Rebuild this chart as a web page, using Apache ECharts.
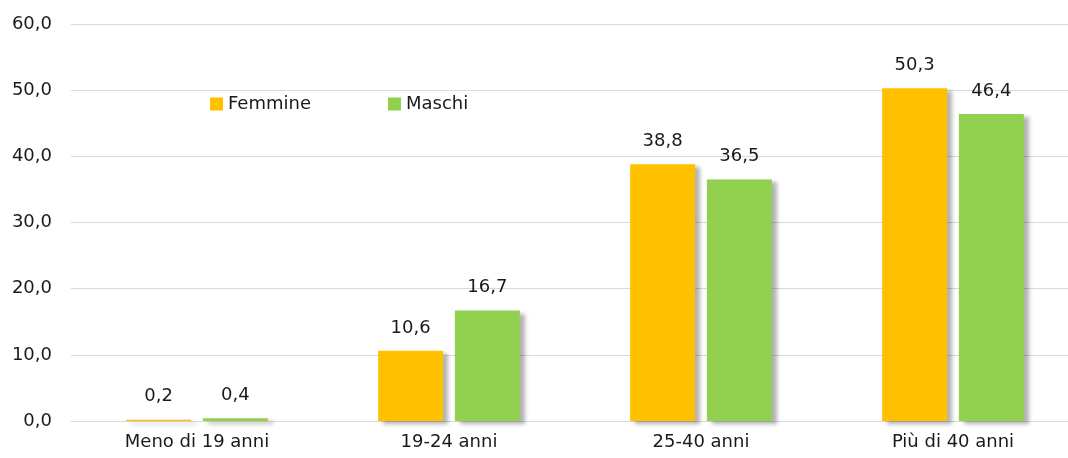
<!DOCTYPE html>
<html>
<head>
<meta charset="utf-8">
<script src="https://cdn.jsdelivr.net/npm/echarts@6/dist/echarts.min.js"></script>
<style>
  html, body { margin: 0; padding: 0; background: #fff; }
  #chart { width: 1068px; height: 458px; }
</style>
</head>
<body>
<div id="chart"></div>
<script>
const categories = ['Meno di 19 anni', '19-24 anni', '25-40 anni', 'Più di 40 anni']
const femmine = [0.2, 10.6, 38.8, 50.3]
const maschi = [0.4, 16.7, 36.5, 46.4]
const seriesNames = ['Femmine', 'Maschi']

const font = "'Century Gothic', 'DejaVu Sans', sans-serif"
const fmt = v => v.toFixed(1).replace('.', ',')

const chart = echarts.init(document.getElementById('chart'))

const barStyle = color => ({
  color: color,
  shadowColor: 'rgba(0, 0, 0, 0.3)',
  shadowBlur: 4,
  shadowOffsetX: 5,
  shadowOffsetY: 3
})

const labelStyle = {
  show: true,
  position: 'top',
  distance: 14,
  fontFamily: font,
  fontSize: 18,
  color: '#1a1a1a',
  formatter: p => fmt(p.value)
}

chart.setOption({
  animation: false,
  textStyle: { fontFamily: font },
  legend: {
    data: seriesNames,
    left: 205,
    top: 90,
    itemWidth: 13,
    itemHeight: 13,
    itemGap: 77,
    icon: 'rect',
    textStyle: { fontFamily: font, fontSize: 18, color: '#1a1a1a' }
  },
  // categories are spaced wider than the visible plot: let the grid run past the right edge
  grid: {
    left: 71,
    top: 24,
    width: 1008,
    bottom: 37,
    outerBoundsMode: 'none'
  },
  xAxis: {
    type: 'category',
    data: categories,
    axisLine: { show: true, lineStyle: { color: '#d9d9d9' } },
    axisTick: { show: false },
    axisLabel: { fontFamily: font, fontSize: 18, color: '#1a1a1a', margin: 12 }
  },
  yAxis: {
    type: 'value',
    min: 0,
    max: 60,
    interval: 10,
    axisLine: { show: false },
    axisTick: { show: false },
    splitLine: { lineStyle: { color: '#d9d9d9' } },
    axisLabel: { fontFamily: font, fontSize: 18, color: '#1a1a1a', margin: 19, formatter: v => fmt(v) }
  },
  series: [
    {
      name: seriesNames[0],
      type: 'bar',
      data: femmine,
      barWidth: 65,
      barGap: '18%',
      itemStyle: barStyle('#FFC000'),
      label: labelStyle
    },
    {
      name: seriesNames[1],
      type: 'bar',
      data: maschi,
      barWidth: 65,
      itemStyle: barStyle('#92D050'),
      label: labelStyle
    }
  ]
})

window.addEventListener('resize', () => {
  chart.resize()
})
</script>
</body>
</html>
